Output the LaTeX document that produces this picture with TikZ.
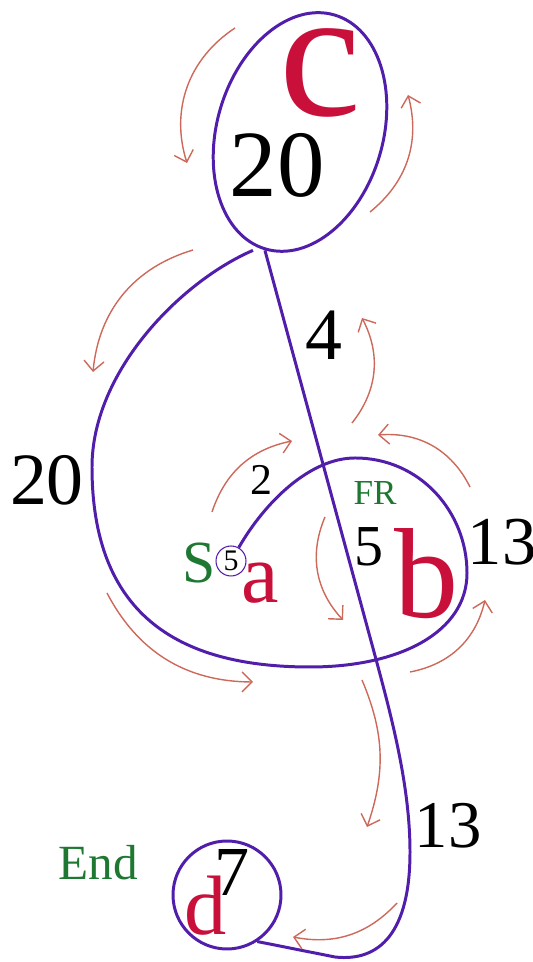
\documentclass[tikz,border=0pt]{standalone}
\usepackage{fontspec}
\setmainfont{Liberation Serif}
\usepackage{xcolor}
\usepackage{tikz}
\usetikzlibrary{arrows.meta, shapes.geometric}

\definecolor{routeblue}{RGB}{80,30,170}
\definecolor{roomred}{RGB}{200,16,58}
\definecolor{flowred}{RGB}{205,105,90}
\definecolor{taggreen}{RGB}{30,120,50}
\newcommand\fsz[1]{\fontsize{#1}{#1}\selectfont}

\tikzset{
    route/.style={draw=routeblue, line width=1.7pt},
    flow/.style={draw=flowred, line width=0.8pt, -{Straight Barb[length=2mm, width=4mm]}},
    room/.style={text=roomred, inner sep=0pt},
    cost/.style={text=black, inner sep=0pt},
    tag/.style={text=taggreen, inner sep=0pt},
}

\begin{document}
\begin{tikzpicture}[x=0.02cm, y=0.02cm]
    \useasboundingbox (0,0) rectangle (533,962);

    \node[route, ellipse, rotate=73.5, minimum width=4.88cm, minimum height=3.32cm, inner sep=0pt] at (300,830) (c) {};
    \node[route, circle, minimum size=2.16cm, inner sep=0pt] at (227,67) (d) {};
    \node[draw=routeblue, line width=0.6pt, circle, minimum size=0.6cm, inner sep=0pt, font=\fsz{17}] at (231,401) (s5) {5};

    \coordinate (cl) at ([xshift=-0.24cm]c.west);
    \coordinate (x1) at (377,299);

    \draw[route] (cl) .. controls (180,680) and (92,590) .. (92,495)
        .. controls (92,350) and (175,295) .. (310,295)
        .. controls (400,295) and (467,330) .. (467,389)
        .. controls (467,450) and (420,504) .. (355,504)
        .. controls (310,504) and (265,460) .. (s5.60);
    \draw[route] (c.west) -- (x1) .. controls (392,243) and (410,175) .. (410,110)
        .. controls (410,30) and (380,0) .. (335,5) -- (d.-57);

    \node[room, font=\fsz{105}] at (320,889) (lc) {c};
    \node[cost, font=\fsz{54}] at (277,797) (wc) {20};
    \node[cost, font=\fsz{42}] at (47,482) (wl) {20};
    \node[cost, font=\fsz{42}] at (324,627) (wcb) {4};
    \node[cost, font=\fsz{25}] at (261,482) (wsa) {2};
    \node[tag, font=\fsz{20}] at (375,469) (fr) {FR};
    \node[cost, font=\fsz{33}] at (369,415) (wm) {5};
    \node[room, font=\fsz{73}] at (427,388) (lb) {b};
    \node[cost, font=\fsz{39}] at (502,420) (wb) {13};
    \node[tag, font=\fsz{34}] at (199,399) (start) {S};
    \node[room, font=\fsz{48}] at (260,379) (la) {a};
    \node[room, font=\fsz{48}] at (206,56) (ld) {d};
    \node[cost, font=\fsz{40}] at (232,90) (wd) {7};
    \node[tag, font=\fsz{28}] at (98,99) (finish) {End};
    \node[cost, font=\fsz{38}] at (448,136) (wbd) {13};

    \draw[flow] (235,934) to[bend right=37] (187,799);
    \draw[flow] (370,750) to[bend right=33] (408,867);
    \draw[flow] (193,712) to[bend right=34] (93,590);
    \draw[flow] (107,369) to[bend right=31] (253,280);
    \draw[flow] (212,450) to[bend left=30] (292,521);
    \draw[flow] (325,445) to[bend right=33] (343,342);
    \draw[flow] (470,475) to[bend right=34] (378,527);
    \draw[flow] (410,290) to[bend right=33] (485,362);
    \draw[flow] (352,539) to[bend right=33] (362,644);
    \draw[flow] (362,282) to[bend left=21] (367,135);
    \draw[flow] (397,59) to[bend left=29] (293,25);
\end{tikzpicture}
\end{document}
